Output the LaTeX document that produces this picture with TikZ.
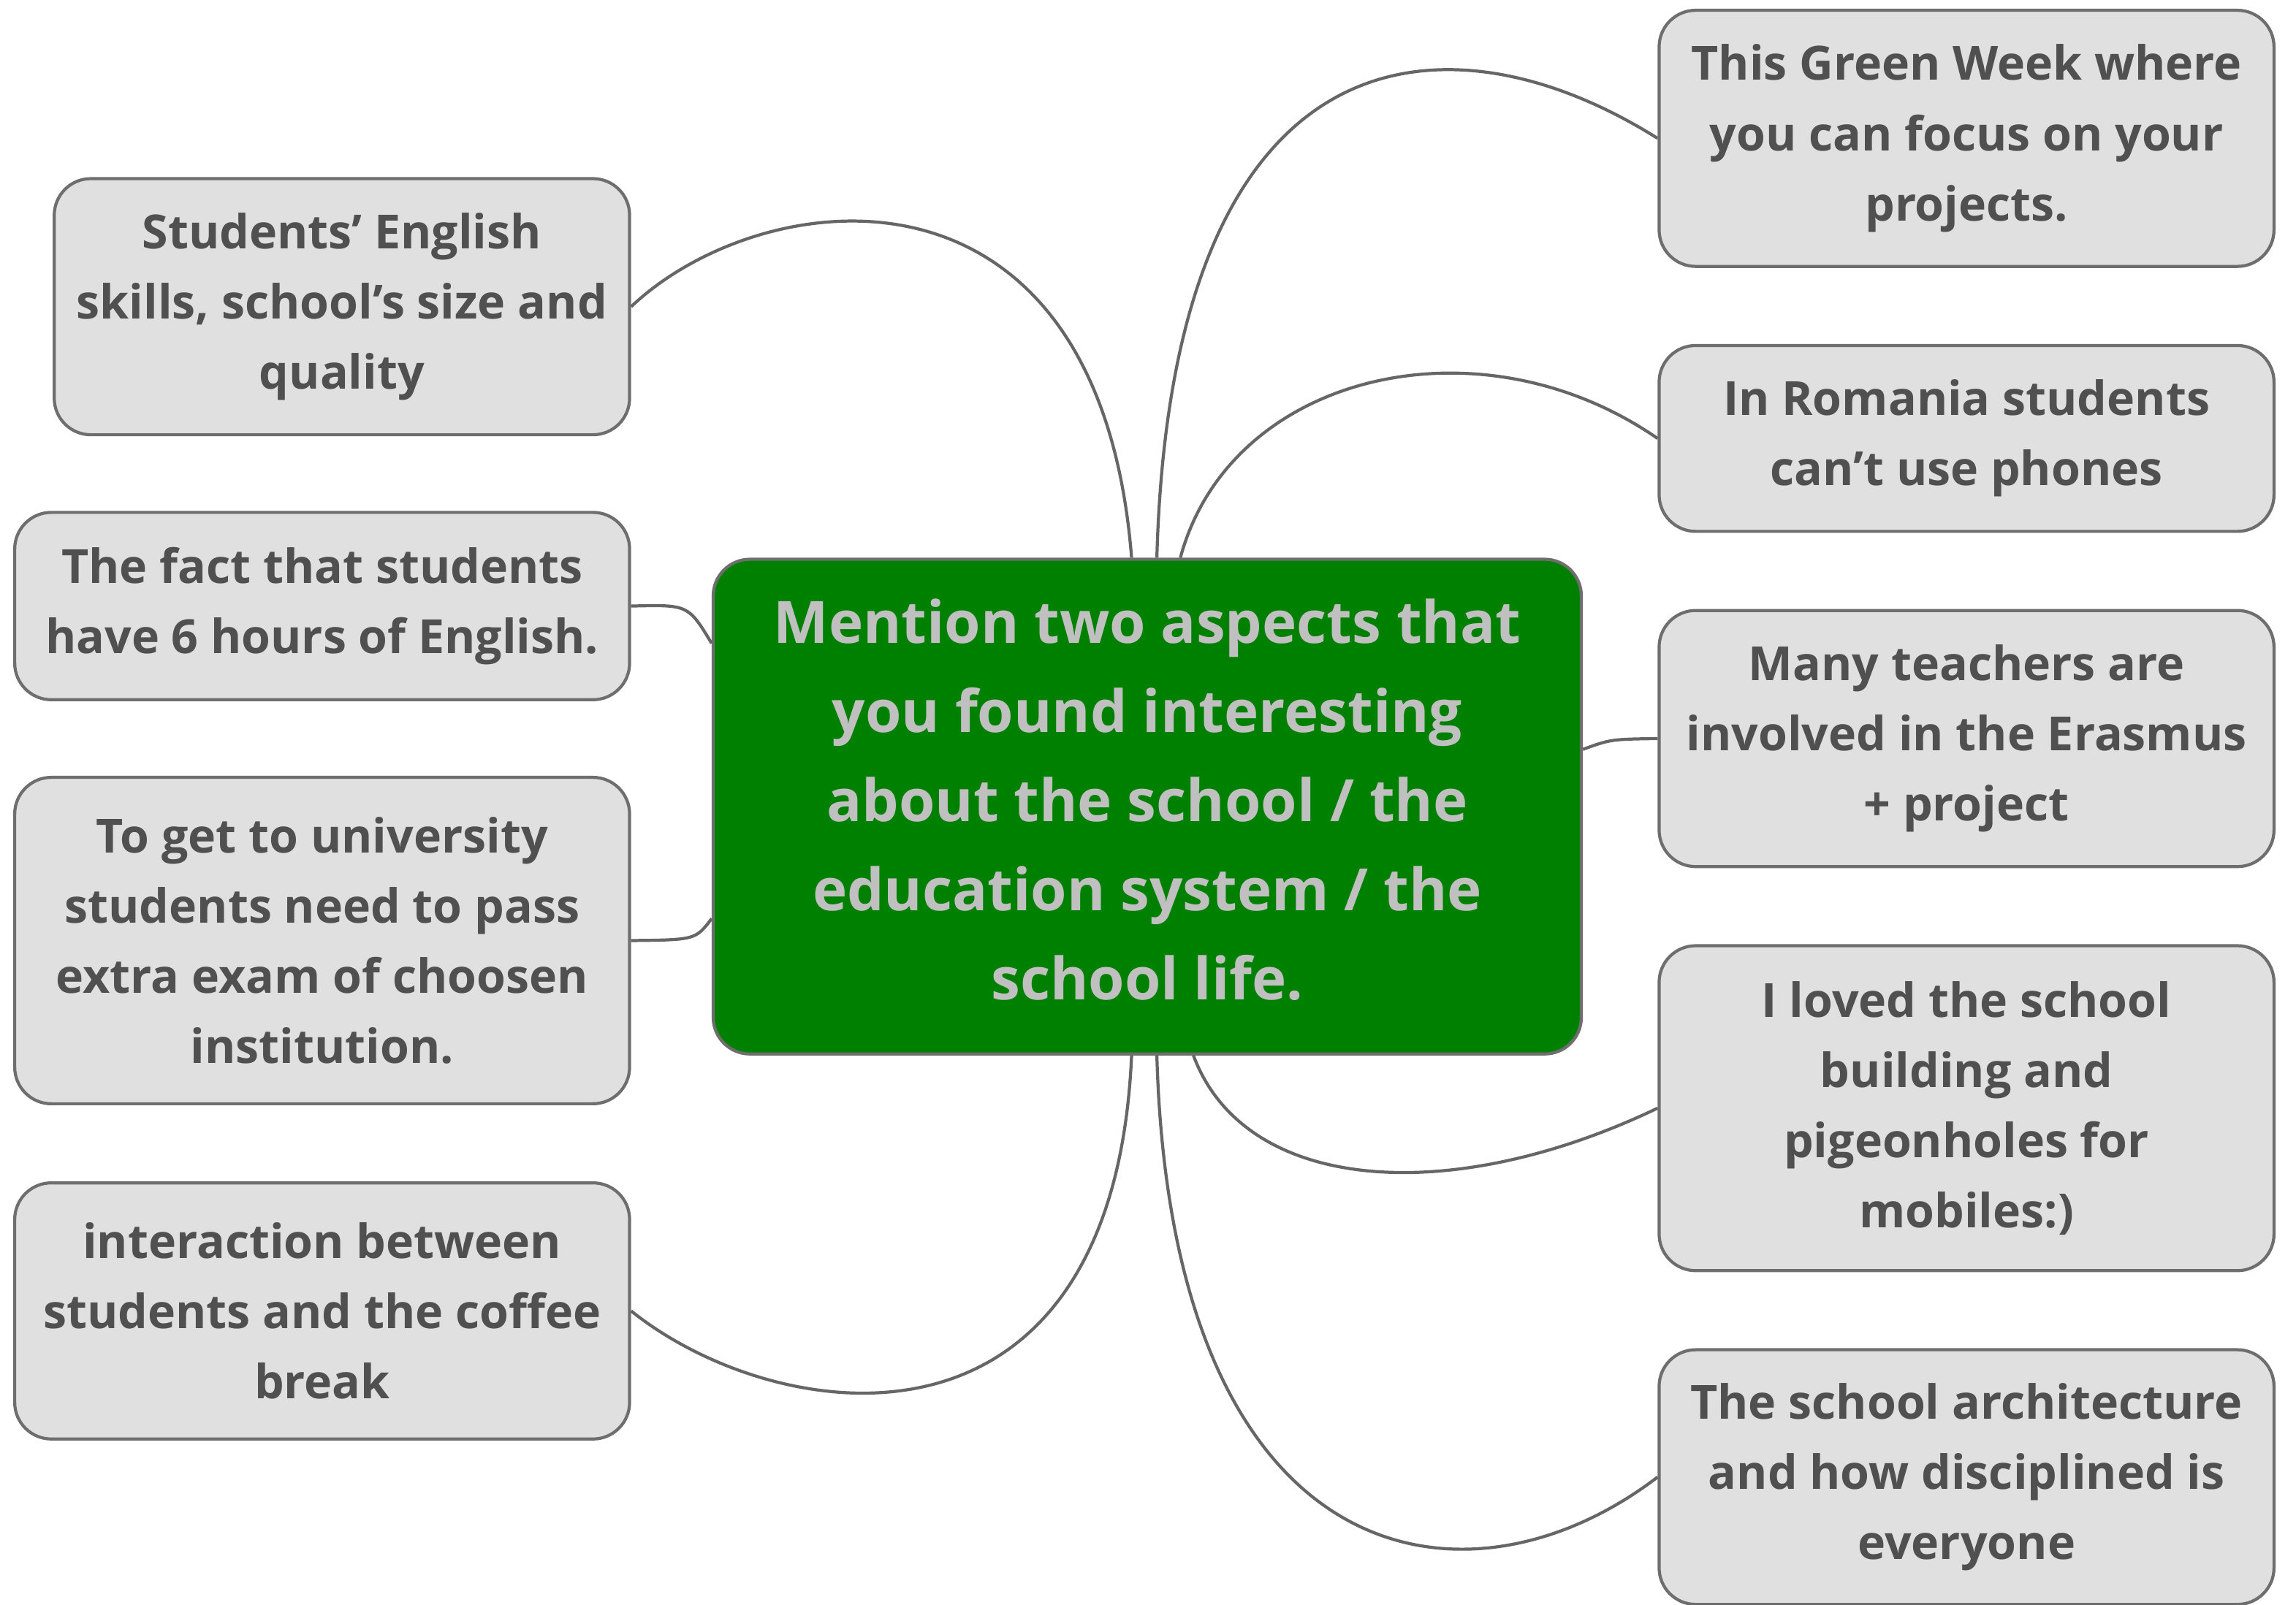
\documentclass[tikz,border=0pt]{standalone}
\usepackage{fontspec}
\setmainfont{Open Sans}
\usetikzlibrary{calc}
\definecolor{boxfill}{HTML}{E0E0E0}
\definecolor{boxline}{HTML}{6E6E6E}
\definecolor{boxtext}{HTML}{505050}
\definecolor{linkcol}{HTML}{666666}
\definecolor{mainfill}{HTML}{008000}
\definecolor{maintext}{HTML}{C0C0C0}
\tikzset{
  idea/.style={draw=boxline, fill=boxfill, line width=1.2pt, rounded corners=0.5cm,
    text=boxtext, align=center, inner sep=0pt, minimum width=8.4cm,
    font=\fontsize{18.3}{27.3}\selectfont\bfseries},
  topic/.style={draw=boxline, fill=mainfill, line width=1.2pt, rounded corners=0.5cm,
    text=maintext, align=center, inner sep=0pt, minimum width=11.86cm, minimum height=6.76cm,
    font=\fontsize{22.7}{34.7}\selectfont\bfseries},
  link/.style={draw=linkcol, line width=1.2pt}
}
\begin{document}
\begin{tikzpicture}[x=0.02cm, y=-0.02cm]
\useasboundingbox (0,0) rectangle (1568,1096);
\node[topic] (C) at (783.5,551) {Mention two aspects that\\you found interesting\\about the school / the\\education system / the\\school life.\\[-29pt]\mbox{}};
\node[idea, minimum width=7.86cm, minimum height=3.5cm] (L1) at (233.5,209.5) {Students’ English\\skills, school’s size and\\quality};
\node[idea, minimum height=2.56cm] (L2) at (220,414) {The fact that students\\have 6 hours of English.};
\node[idea, minimum height=4.46cm] (L3) at (220,642.5) {To get to university\\students need to pass\\extra exam of choosen\\institution.};
\node[idea, minimum height=3.5cm] (L4) at (220,895.5) {interaction between\\students and the coffee\\break};
\node[idea, minimum height=3.5cm] (R1) at (1343,94.5) {This Green Week where\\you can focus on your\\projects.};
\node[idea, minimum height=2.54cm] (R2) at (1343,299.5) {In Romania students\\can’t use phones};
\node[idea, minimum height=3.5cm] (R3) at (1343,504.5) {Many teachers are\\involved in the Erasmus\\+ project};
\node[idea, minimum height=4.44cm] (R4) at (1343,757) {I loved the school\\building and\\pigeonholes for\\mobiles:)};
\node[idea, minimum height=3.48cm] (R5) at (1343,1009) {The school architecture\\and how disciplined is\\everyone};
% connectors
\path[link] (L1.east) .. controls (520,125) and (750,95) .. ($(C.north west)!0.482!(C.north east)$);
\path[link] (L2.east) .. controls (470,413) .. ($(C.north west)!0.172!(C.south west)$);
\path[link] (L3.east) .. controls (475,642) .. ($(C.north west)!0.725!(C.south west)$);
\path[link] (L4.east) .. controls (530,975) and (760,1010) .. ($(C.south west)!0.482!(C.south east)$);
\path[link] ($(C.north west)!0.511!(C.north east)$) .. controls (800,15) and (990,5) .. (R1.west);
\path[link] ($(C.north west)!0.538!(C.north east)$) .. controls (840,255) and (1010,215) .. (R2.west);
\path[link] ($(C.north east)!0.385!(C.south east)$) .. controls (1100,505) .. (R3.west);
\path[link] ($(C.south west)!0.553!(C.south east)$) .. controls (850,815) and (990,825) .. (R4.west);
\path[link] ($(C.south west)!0.511!(C.south east)$) .. controls (800,1075) and (1000,1110) .. (R5.west);
\end{tikzpicture}
\end{document}
